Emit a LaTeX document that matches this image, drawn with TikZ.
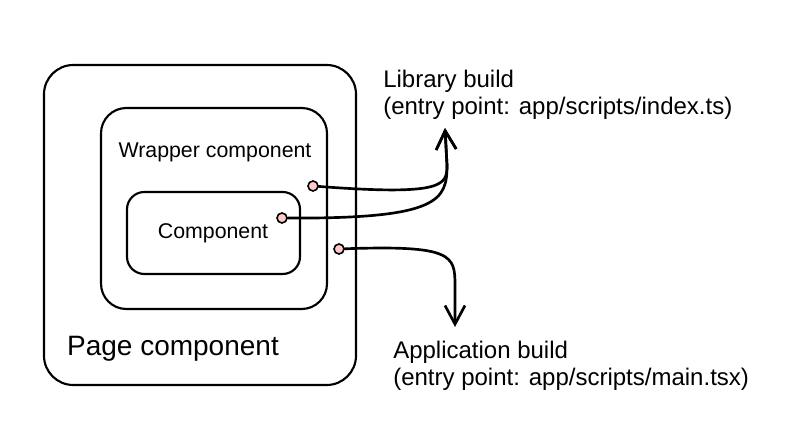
\documentclass[tikz,border=0pt]{standalone}
\usepackage{fontspec}
\setmainfont{Liberation Sans}
\usetikzlibrary{arrows.meta, positioning}
\definecolor{pinkdot}{RGB}{255,201,201}
\tikzset{
  compbox/.style={draw, line width=1.6pt, inner sep=0pt},
  pin/.style={circle, draw, fill=pinkdot, line width=1.2pt, inner sep=0pt, minimum size=7.5pt},
  wire/.style={line width=2pt, line cap=round},
  note/.style={align=left, inner sep=0pt, font=\fontsize{18}{20.25}\selectfont}
}

\begin{document}
\begin{tikzpicture}[x=0.75pt, y=-0.75pt, >={Straight Barb[length=14pt,width=15pt]}]
    \useasboundingbox (0,0) rectangle (804,448);

    % nested boxes
    \node[compbox, rounded corners=22pt, minimum width=234pt, minimum height=240pt] (page) at (200,225) {};
    \node[compbox, rounded corners=19pt, minimum width=169.5pt, minimum height=150.75pt] (wrapper) at (214,208.5) {};
    \node[compbox, rounded corners=13pt, minimum width=129.75pt, minimum height=61.5pt] (comp) at (213.5,233) {};

    \node[font=\fontsize{21}{25}\selectfont] (page-label) at (173,349) {Page component};
    \node[font=\fontsize{16}{19}\selectfont] (wrapper-label) at (215,152) {Wrapper component};
    \node[font=\fontsize{16}{19}\selectfont] (comp-label) at (213,233) {Component};

    % entry points
    \node[pin] (pin-wrapper) at (313,186) {};
    \node[pin] (pin-comp) at (282,218) {};
    \node[pin] (pin-page) at (339,249) {};

    \node[note, anchor=north west] (lib) at (383,70) {Library build\\(entry point: app/scripts/index.ts)};
    \node[note, anchor=north west] (app) at (393,341) {Application build\\(entry point: app/scripts/main.tsx)};

    \coordinate (lib-tip) at (445,128);
    \coordinate (app-tip) at (455,327);

    \draw[wire, ->] (pin-wrapper) .. controls (445,196) and (447,185) .. (447,165) -- (lib-tip);
    \draw[wire, ->] (pin-comp) .. controls (440,219) and (447,200) .. (447,165) -- (lib-tip);
    \draw[wire, ->] (pin-page) .. controls (452,245) and (455,255) .. (455,285) -- (app-tip);
\end{tikzpicture}
\end{document}
